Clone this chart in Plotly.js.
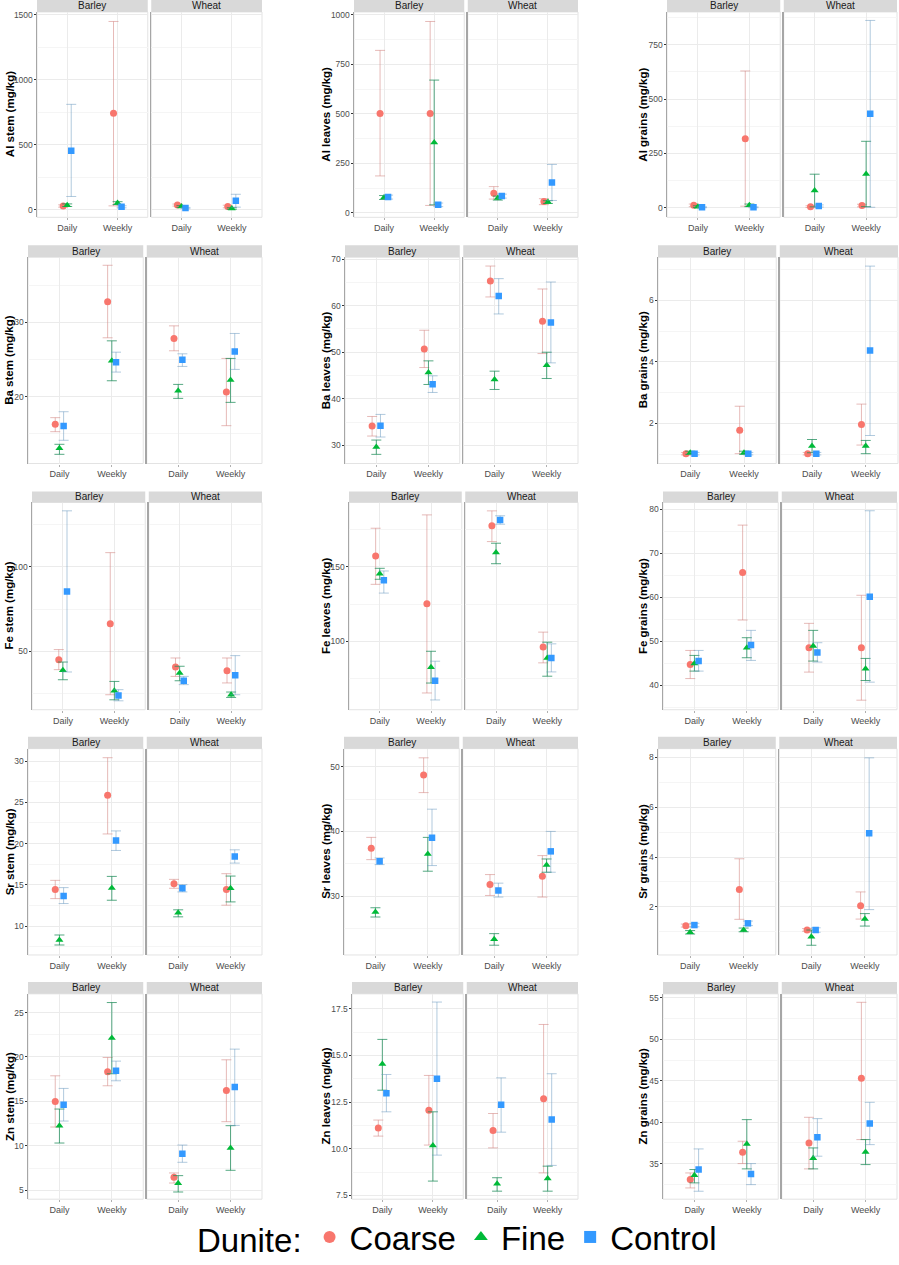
<!DOCTYPE html>
<html><head><meta charset="utf-8">
<script src="https://cdn.plot.ly/plotly-3.0.1.min.js"></script>
<style>html,body{margin:0;padding:0;background:#fff}#chart{width:899px;height:1265px}</style>
</head><body><div id="chart"></div>
<script>
// ---------- DATA ----------
const categories = ['Daily', 'Weekly'];
const crops = ['Barley', 'Wheat'];
const treatments = ['Coarse', 'Fine', 'Control'];
const panelTitles = ['Al stem (mg/kg)', 'Al leaves (mg/kg)', 'Al grains (mg/kg)',
  'Ba stem (mg/kg)', 'Ba leaves (mg/kg)', 'Ba grains (mg/kg)',
  'Fe stem (mg/kg)', 'Fe leaves (mg/kg)', 'Fe grains (mg/kg)',
  'Sr stem (mg/kg)', 'Sr leaves (mg/kg)', 'Sr grains (mg/kg)',
  'Zn stem (mg/kg)', 'Zn leaves (mg/kg)', 'Zn grains (mg/kg)'];
// each array: Coarse[Barley-Daily, Barley-Weekly, Wheat-Daily, Wheat-Weekly], Fine[...], Control[...]
const alStemMean = [28, 741, 36, 25,   35, 51, 25, 10,   454, 23, 13, 69];
const alStemLo   = [20, 30, 28, 15,    25, 40, 18, 4,    102, 15, 8, 20];
const alStemHi   = [38, 1447, 44, 35,  45, 62, 32, 16,   810, 31, 18, 119];

const alLeavesMean = [502, 502, 100, 58,  78, 356, 75, 55,  80, 41, 85, 154];
const alLeavesLo   = [187, 38, 70, 42,    68, 41, 65, 48,   70, 32, 75, 63];
const alLeavesHi   = [821, 967, 133, 72,  88, 671, 85, 62,  90, 50, 95, 245];

const alGrainsMean = [12, 318, 6, 11,  6, 12, 80, 156,  3, 3, 9, 432];
const alGrainsLo   = [6, 8, 2, 5,      2, 6, 5, 6,      1, 1, 4, 3];
const alGrainsHi   = [18, 629, 10, 17, 10, 18, 155, 306, 5, 5, 14, 861];

const baStemMean = [16.28, 32.78, 27.85, 20.63,  13.05, 24.84, 20.81, 22.24,  16.05, 24.66, 24.98, 26.1];
const baStemLo   = [15.29, 27.94, 26.19, 16.1,   12.24, 22.15, 19.78, 19.24,  14.13, 23.32, 24.08, 23.68];
const baStemHi   = [17.18, 37.71, 29.55, 25.16,  13.59, 27.53, 21.66, 25.16,  17.98, 26.0, 25.78, 28.52];

const baLeavesMean = [34.14, 50.71, 65.29, 56.64,  29.64, 45.64, 44.14, 47.21,  34.21, 43.14, 62.07, 56.36];
const baLeavesLo   = [32.0, 46.71, 61.86, 49.71,   28.07, 43.07, 42.0, 44.36,   31.79, 41.36, 58.21, 47.71];
const baLeavesHi   = [36.2, 54.71, 68.5, 63.57,    31.14, 48.14, 45.93, 50.0,   36.64, 44.93, 65.79, 65.07];

const baGrainsMean = [1.02, 1.78, 1.02, 1.97,  1.05, 1.05, 1.27, 1.27,  1.02, 1.02, 1.02, 4.37];
const baGrainsLo   = [0.98, 1.02, 0.98, 1.30,  1.0, 1.0, 1.05, 1.02,    0.98, 0.98, 0.98, 1.61];
const baGrainsHi   = [1.06, 2.56, 1.06, 2.63,  1.1, 1.1, 1.48, 1.45,    1.06, 1.06, 1.06, 7.11];

const feStemMean = [45.0, 66.3, 40.7, 38.5,  38.7, 26.6, 37.1, 24.2,  85.5, 23.8, 32.5, 35.7];
const feStemLo   = [39.1, 24.2, 35.1, 31.2,  33.1, 21.2, 32.5, 22.6,  37.7, 20.6, 30.2, 24.2];
const feStemHi   = [51.0, 108.5, 46.0, 46.0, 43.6, 32.1, 41.1, 25.8,  133.3, 27.2, 35.1, 47.4];

const feLeavesMean = [157.4, 125.2, 177.7, 96.0,  145.5, 82.4, 159.7, 88.7,  141.0, 73.4, 181.7, 88.7];
const feLeavesLo   = [138.3, 65.1, 167.1, 85.4,   141.7, 71.8, 152.2, 76.4,  132.4, 60.4, 178.8, 79.3];
const feLeavesHi   = [176.1, 185.1, 187.8, 106.1, 149.1, 93.2, 166.0, 99.3,  147.3, 86.5, 184.5, 98.2];

const feGrainsMean = [44.71, 65.63, 48.52, 48.52,  44.94, 48.52, 48.9, 43.73,  45.48, 49.13, 47.45, 60.15];
const feGrainsLo   = [41.5, 54.83, 42.97, 36.58,   43.2, 46.24, 45.48, 41.06,  43.2, 45.63, 45.25, 40.68];
const feGrainsHi   = [47.9, 76.43, 54.07, 60.46,   46.77, 50.8, 52.47, 46.08,  47.9, 52.47, 49.66, 79.7];

const srStemMean = [14.42, 25.86, 15.14, 14.42,  8.31, 14.62, 11.61, 14.58,  13.65, 20.36, 14.58, 18.43];
const srStemLo   = [13.33, 21.16, 14.58, 12.53,  7.71, 13.13, 11.12, 12.93,  12.73, 19.16, 14.14, 17.63];
const srStemHi   = [15.54, 30.4, 15.66, 16.35,   8.92, 16.02, 11.97, 16.06,  14.66, 21.53, 15.02, 19.24];

const srLeavesMean = [37.38, 48.72, 31.79, 33.08,  27.54, 36.51, 23.33, 34.82,  35.38, 39.03, 30.87, 36.92];
const srLeavesLo   = [35.64, 46.0, 30.1, 29.85,    26.77, 33.85, 22.41, 33.69,  34.87, 34.72, 29.85, 33.69];
const srLeavesHi   = [39.08, 51.38, 33.33, 36.26,  28.2, 39.08, 24.2, 35.74,    35.9, 43.44, 32.0, 40.0];

const srGrainsMean = [1.24, 2.70, 1.07, 2.05,  0.98, 1.07, 0.80, 1.51,  1.27, 1.34, 1.07, 4.95];
const srGrainsLo   = [1.19, 1.50, 1.02, 1.51,  0.91, 1.0, 0.46, 1.23,   1.2, 1.25, 0.98, 1.89];
const srGrainsHi   = [1.31, 3.93, 1.13, 2.60,  1.05, 1.15, 1.07, 1.73,  1.34, 1.43, 1.16, 7.98];

const znStemMean = [15.0, 18.33, 6.46, 16.24,  12.27, 22.12, 5.79, 9.76,  14.63, 18.45, 9.12, 16.61];
const znStemLo   = [12.12, 16.76, 5.82, 12.72, 10.32, 18.11, 4.81, 7.25,  12.79, 17.32, 8.15, 12.3];
const znStemHi   = [17.88, 19.94, 6.95, 19.68, 14.14, 26.12, 6.65, 12.27, 16.46, 19.53, 10.09, 20.88];

const znLeavesMean = [11.11, 12.07, 10.98, 12.68,  14.54, 10.18, 8.13, 8.41,  12.98, 13.75, 12.36, 11.57];
const znLeavesLo   = [10.68, 10.2, 10.05, 8.71,    13.14, 8.27, 7.73, 7.73,   11.98, 9.66, 10.89, 9.11];
const znLeavesHi   = [11.54, 13.93, 11.89, 16.66,  15.86, 11.98, 8.45, 9.07,  13.98, 17.86, 13.8, 14.02];

const znGrainsMean = [33.07, 36.37, 37.49, 45.30,  33.59, 37.37, 35.64, 36.41,  34.28, 33.75, 38.18, 39.83];
const znGrainsLo   = [32.06, 35.0, 34.36, 37.90,   32.67, 34.36, 34.36, 34.88,  31.66, 32.46, 35.89, 37.29];
const znGrainsHi   = [33.87, 37.70, 40.59, 54.48,  34.28, 40.31, 36.89, 37.90,  36.77, 35.0, 40.43, 42.40];

const panelMeans = [alStemMean, alLeavesMean, alGrainsMean, baStemMean, baLeavesMean, baGrainsMean,
  feStemMean, feLeavesMean, feGrainsMean, srStemMean, srLeavesMean, srGrainsMean, znStemMean, znLeavesMean, znGrainsMean];
const panelLows = [alStemLo, alLeavesLo, alGrainsLo, baStemLo, baLeavesLo, baGrainsLo,
  feStemLo, feLeavesLo, feGrainsLo, srStemLo, srLeavesLo, srGrainsLo, znStemLo, znLeavesLo, znGrainsLo];
const panelHighs = [alStemHi, alLeavesHi, alGrainsHi, baStemHi, baLeavesHi, baGrainsHi,
  feStemHi, feLeavesHi, feGrainsHi, srStemHi, srLeavesHi, srGrainsHi, znStemHi, znLeavesHi, znGrainsHi];

// ---------- STYLE / LAYOUT CONFIG ----------
const yRanges = [[-58,1520],[-22,1015],[-43,900],[11,38.8],[26.1,70.4],[0.7,7.4],[15.3,138.3],[53.8,193.5],[34.4,81.6],
  [6.5,31.5],[20.9,52.8],[0.07,8.35],[4.0,27.1],[7.3,18.3],[30.7,55.5]];
const yDticks = [500,250,250,10,10,2,50,50,10,5,10,2,5,2.5,5];
const W = 899, H = 1265;
const rowY = [[0,12,218],[246,258,465],[493,504,712],[739,751,958],[985,997,1203]];
const colX = [
  [[37,262],[354,578],[667,897]],
  [[28,262],[345,578],[658,898]],
  [[32,262],[349,578],[663,897]],
  [[28,262],[344,578],[658,897]],
  [[28,262],[352,578],[663,897]]];
const titleX = [9.5, 326, 643];
const markerColors = ['#F8766D', '#00BA38', '#3399FF'];
const errColors = ['rgba(210,130,125,0.55)', 'rgba(30,140,90,0.75)', 'rgba(100,150,190,0.5)'];
const symbols = ['circle', 'triangle-up', 'square'];
const sizes = [7, 7, 6.5];
const dodge = [-0.08, 0, 0.08];
const FONT = 'Liberation Sans, Arial, sans-serif';

const traces = [];
const layout = {
  width: W, height: H, margin: {l:0, r:0, t:0, b:0},
  paper_bgcolor: '#fff', plot_bgcolor: '#fff',
  font: {family: FONT, color: '#4d4d4d'},
  showlegend: true,
  legend: {orientation: 'h', x: 0.51, xanchor: 'center', y: 1 - 1241/H, yanchor: 'middle',
    bgcolor: 'rgba(0,0,0,0)',
    font: {size: 33, color: '#000', family: FONT}, itemsizing: 'constant',
    title: {text: 'Dunite:', side: 'left', font: {size: 33, color: '#000', family: FONT}}},
  shapes: [], annotations: []
};
const px = v => v / W, py = v => 1 - v / H;

for (let p = 0; p < 15; p++) {
  const r = Math.floor(p / 3), c = p % 3;
  const [L, R] = colX[r][c];
  const [sTop, pTop, pBot] = rowY[r];
  const gap = 3.5, fw = (R - L - gap) / 2;
  for (let f = 0; f < 2; f++) {
    const k = p * 2 + f + 1;
    const x0 = L + f * (fw + gap), x1 = x0 + fw;
    const xs = k === 1 ? '' : String(k);
    layout['xaxis' + xs] = {
      domain: [px(x0), px(x1)], anchor: 'y' + xs, range: [0.4, 2.6],
      tickmode: 'array', tickvals: [1, 2], ticktext: categories,
      showgrid: true, gridcolor: '#ebebeb', gridwidth: 1, zeroline: false, showline: false,
      ticks: 'outside', ticklen: 2, tickcolor: '#b0b0b0',
      tickfont: {size: 9, color: '#4d4d4d', family: FONT}, fixedrange: true
    };
    const yax = {
      domain: [py(pBot), py(pTop)], anchor: 'x' + xs, range: yRanges[p],
      tick0: 0, dtick: yDticks[p], tickformat: p === 13 ? '.1f' : '',
      showgrid: true, gridcolor: '#ebebeb', gridwidth: 1, zeroline: false,
      minor: {dtick: yDticks[p] / 2, tick0: 0, showgrid: true, gridcolor: '#f5f5f5', ticks: ''},
      showline: true, linecolor: '#a6a6a6', linewidth: 1.5,
      ticks: f === 0 ? 'outside' : '', ticklen: 2, tickcolor: '#333',
      ticklabelstandoff: -1,
      showticklabels: f === 0,
      tickfont: {size: 8.5, color: '#4d4d4d', family: FONT}, fixedrange: true
    };
    if (f === 1) yax.matches = 'y' + (k - 1 === 1 ? '' : String(k - 1));
    layout['yaxis' + xs] = yax;
    // frame
    layout.shapes.push({type: 'rect', xref: 'x' + xs + ' domain', yref: 'y' + xs + ' domain',
      x0: 0, x1: 1, y0: 0, y1: 1, line: {color: '#e3e3e3', width: 1}, layer: 'below'});
    // strip
    layout.shapes.push({type: 'rect', xref: 'paper', yref: 'paper', x0: px(x0), x1: px(x1),
      y0: py(pTop), y1: py(sTop), fillcolor: '#d9d9d9', line: {width: 0}});
    layout.annotations.push({xref: 'paper', yref: 'paper', x: px((x0 + x1) / 2), y: py((sTop + pTop) / 2),
      text: crops[f], showarrow: false, xanchor: 'center', yanchor: 'middle',
      font: {size: 10, color: '#1a1a1a', family: FONT}});
    for (let s = 0; s < 3; s++) {
      const idx = [s * 4 + f * 2, s * 4 + f * 2 + 1];
      const yv = idx.map(i => panelMeans[p][i]);
      const hi = idx.map(i => panelHighs[p][i] - panelMeans[p][i]);
      const lo = idx.map(i => panelMeans[p][i] - panelLows[p][i]);
      traces.push({
        type: 'scatter', mode: 'markers', xaxis: 'x' + xs, yaxis: 'y' + xs,
        x: categories.map((_, ci) => ci + 1 + dodge[s]), y: yv,
        name: treatments[s], legendgroup: treatments[s], showlegend: p === 0 && f === 0,
        marker: {color: markerColors[s], symbol: symbols[s], size: sizes[s], line: {width: 0}},
        error_y: {type: 'data', symmetric: false, array: hi, arrayminus: lo,
          color: errColors[s], thickness: 1, width: 5},
        hoverinfo: 'skip'
      });
    }
  }
  layout.annotations.push({xref: 'paper', yref: 'paper', x: px(titleX[c]), y: py((pTop + pBot) / 2),
    text: panelTitles[p], textangle: -90, showarrow: false, xanchor: 'center', yanchor: 'middle',
    font: {size: 11.5, color: '#000', family: FONT, weight: 'bold'}});
}

Plotly.newPlot('chart', traces, layout, {displayModeBar: false, staticPlot: true});
</script></body></html>
